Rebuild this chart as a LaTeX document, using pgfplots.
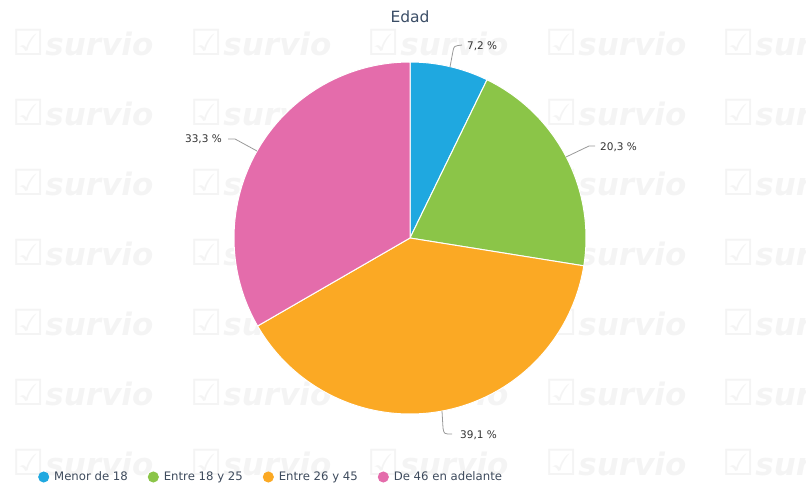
\documentclass[border=0pt]{standalone}
\usepackage{fontspec}
\setmainfont{DejaVu Sans}
\newfontfamily\symf{DejaVu Sans}
\usepackage{pgfplots}
\usepackage{pgfplotstable}
\pgfplotsset{compat=1.18}

\definecolor{cblue}{HTML}{1FA8E0}
\definecolor{cgreen}{HTML}{8BC548}
\definecolor{corange}{HTML}{FBA924}
\definecolor{cpink}{HTML}{E46CAB}
\definecolor{titlec}{HTML}{3A4D66}
\definecolor{legc}{HTML}{3D4A5C}
\definecolor{labc}{HTML}{333333}
\definecolor{leadc}{HTML}{999999}
\definecolor{wm}{HTML}{F4F4F4}

% Edad, in percent
\pgfplotstableread{
grupo valor
menor18 7.2
18a25   20.3
26a45   39.1
46mas   33.3
}\edad

\begin{document}
\begin{tikzpicture}
\useasboundingbox (0,0) rectangle (806pt,487pt);

% watermark
\foreach \x in {12,190,367,545,722}
  \foreach \y in {43,113,183,253,323,393,463}
    \node[anchor=west, inner sep=0pt, text=wm, font=\fontsize{31}{31}\selectfont\bfseries\itshape]
      at (\x pt, {(487-\y)*1pt}) {{\symf\mdseries\upshape\fontsize{36}{36}\selectfont ☑}\hspace{1pt}survio};

\pgfplotstablegetelem{0}{valor}\of\edad \let\vA\pgfplotsretval
\pgfplotstablegetelem{1}{valor}\of\edad \let\vB\pgfplotsretval
\pgfplotstablegetelem{2}{valor}\of\edad \let\vC\pgfplotsretval
\pgfplotstablegetelem{3}{valor}\of\edad \let\vD\pgfplotsretval
\pgfmathsetmacro\tot{\vA+\vB+\vC+\vD}
\pgfmathsetmacro\aA{90}
\pgfmathsetmacro\aB{\aA-360*\vA/\tot}
\pgfmathsetmacro\aC{\aB-360*\vB/\tot}
\pgfmathsetmacro\aD{\aC-360*\vC/\tot}
\pgfmathsetmacro\aE{\aD-360*\vD/\tot}

\begin{axis}[
    at={(0,0)}, anchor=south west,
    scale only axis, width=806pt, height=487pt,
    xmin=0, xmax=806, ymin=0, ymax=487, y dir=reverse,
    hide axis, clip=false,
    legend columns=4,
    legend style={at={(axis cs:35,477)}, anchor=west, draw=none, fill=none,
        font=\fontsize{11.7}{13}\selectfont, text=legc,
        nodes={inner xsep=3pt, inner ysep=0pt},
        /tikz/every even column/.append style={column sep=17pt}},
]
\addplot[fill=cblue, draw=white, line width=1pt, domain=\aB:\aA, samples=40, variable=\t,
    legend image code/.code={\fill[cblue] (5pt,0pt) circle (5pt); \path (12pt,0pt);}]
    ({410+176*cos(\t)},{238-176*sin(\t)}) -- (axis cs:410,238) -- cycle;
\addlegendentry{Menor de 18}
\addplot[fill=cgreen, draw=white, line width=1pt, domain=\aC:\aB, samples=60, variable=\t,
    legend image code/.code={\fill[cgreen] (5pt,0pt) circle (5pt); \path (12pt,0pt);}]
    ({410+176*cos(\t)},{238-176*sin(\t)}) -- (axis cs:410,238) -- cycle;
\addlegendentry{Entre 18 y 25}
\addplot[fill=corange, draw=white, line width=1pt, domain=\aD:\aC, samples=100, variable=\t,
    legend image code/.code={\fill[corange] (5pt,0pt) circle (5pt); \path (12pt,0pt);}]
    ({410+176*cos(\t)},{238-176*sin(\t)}) -- (axis cs:410,238) -- cycle;
\addlegendentry{Entre 26 y 45}
\addplot[fill=cpink, draw=white, line width=1pt, domain=\aE:\aD, samples=90, variable=\t,
    legend image code/.code={\fill[cpink] (5pt,0pt) circle (5pt); \path (12pt,0pt);}]
    ({410+176*cos(\t)},{238-176*sin(\t)}) -- (axis cs:410,238) -- cycle;
\addlegendentry{De 46 en adelante}

% title
\node[text=titlec, font=\fontsize{15.5}{18}\selectfont] at (axis cs:410,17) {Edad};

% leader lines and labels
\draw[leadc, line width=0.8pt] (axis cs:450,67) -- (axis cs:453,51) .. controls (axis cs:454,46) .. (axis cs:462,45);
\node[anchor=west, text=labc, font=\fontsize{10.5}{12}\selectfont, inner sep=0pt] at (axis cs:467,46) {7,2 \%};
\draw[leadc, line width=0.8pt] (axis cs:566,157) -- (axis cs:589,146) -- (axis cs:595,146);
\node[anchor=west, text=labc, font=\fontsize{10.5}{12}\selectfont, inner sep=0pt] at (axis cs:600,147) {20,3 \%};
\draw[leadc, line width=0.8pt] (axis cs:442,411) -- (axis cs:443,428) .. controls (axis cs:444,434) .. (axis cs:452,434);
\node[anchor=west, text=labc, font=\fontsize{10.5}{12}\selectfont, inner sep=0pt] at (axis cs:460,435) {39,1 \%};
\draw[leadc, line width=0.8pt] (axis cs:257,151) -- (axis cs:235,139) -- (axis cs:228,139);
\node[anchor=east, text=labc, font=\fontsize{10.5}{12}\selectfont, inner sep=0pt] at (axis cs:222,139) {33,3 \%};
\end{axis}
\end{tikzpicture}
\end{document}
